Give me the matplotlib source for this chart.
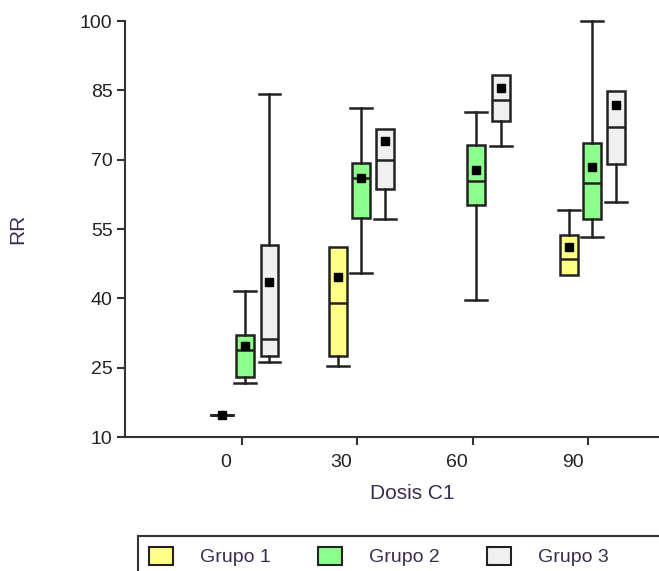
import matplotlib.pyplot as plt
from matplotlib.patches import Patch, Rectangle
from matplotlib.transforms import ScaledTranslation

plt.rcParams['font.family'] = ['Liberation Sans', 'DejaVu Sans']

doses = ["0", "30", "60", "90"]
groups = ["Grupo 1", "Grupo 2", "Grupo 3"]
colors = ["#FFFF88", "#8CFF8C", "#F0F0F0"]
y_ticks = [10, 25, 40, 55, 70, 85, 100]

# (whislo, q1, median, q3, whishi, mean) per dose, None = no data
grupo1 = [(14.8, 14.8, 14.8, 14.8, 14.8, 14.8),
          (25.4, 27.5, 39.0, 51.2, 51.2, 44.7),
          None,
          (45.0, 45.0, 48.6, 53.7, 59.1, 51.0)]
grupo2 = [(21.6, 22.9, 28.9, 32.0, 41.6, 29.7),
          (45.4, 57.4, 66.0, 69.2, 81.2, 66.0),
          (39.6, 60.3, 65.4, 73.2, 80.4, 67.7),
          (53.3, 57.1, 64.9, 73.7, 100.0, 68.5)]
grupo3 = [(26.2, 27.5, 31.2, 51.5, 84.2, 43.6),
          (57.1, 63.7, 69.9, 76.6, 76.6, 74.0),
          (72.9, 78.4, 82.9, 88.3, 88.3, 85.6),
          (60.8, 69.0, 77.0, 84.9, 84.9, 81.8)]

edge = "#222222"
text_col = "#3a2d50"

fig = plt.figure(figsize=(6.59, 5.71), dpi=100)
ax = fig.add_axes([125 / 659, 1 - 437 / 571, 534 / 659, 416 / 571])

offsets = [-0.17, 0.03, 0.24]
for gi, (data, color) in enumerate(zip([grupo1, grupo2, grupo3], colors)):
    stats = []
    pos = []
    for di, s in enumerate(data):
        if s is None:
            continue
        lo, q1, med, q3, hi, mean = s
        stats.append(dict(whislo=lo, q1=q1, med=med, q3=q3, whishi=hi,
                          mean=mean, fliers=[]))
        pos.append(di + offsets[gi])
    res = ax.bxp(stats, positions=pos, widths=0.155, capwidths=0.19,
                 patch_artist=True, showmeans=True,
                 boxprops=dict(facecolor=color, edgecolor=edge, linewidth=1.8),
                 medianprops=dict(color=edge, linewidth=1.8),
                 whiskerprops=dict(color=edge, linewidth=1.8),
                 capprops=dict(color=edge, linewidth=1.8),
                 meanprops=dict(marker="s", markerfacecolor="black",
                                markeredgecolor="black", markersize=6))
    for arts in res.values():
        for a in arts:
            a.set_clip_on(False)
    # caps that sit right on the box edge are not drawn
    for k, st in enumerate(stats):
        if st["q1"] == st["q3"]:
            continue
        if st["whislo"] == st["q1"]:
            res["caps"][2 * k].set_visible(False)
        if st["whishi"] == st["q3"]:
            res["caps"][2 * k + 1].set_visible(False)

ax.set_xlim(-1.01, 3.61)
ax.set_ylim(10, 100)
ax.set_xticks(range(len(doses)))
ax.set_xticklabels(doses)
ax.set_yticks(y_ticks)

for side in ["top", "right"]:
    ax.spines[side].set_visible(False)
for side in ["left", "bottom"]:
    ax.spines[side].set_color("#333333")
    ax.spines[side].set_linewidth(1.5)

ax.tick_params(direction="out", length=6, width=1.5, color="#333333",
               labelsize=14, labelcolor="#222222")
ax.tick_params(axis="x", pad=6)
ax.tick_params(axis="y", pad=3)

shift = ScaledTranslation(-16 / 100, 0, fig.dpi_scale_trans)
for lab in ax.get_xticklabels():
    lab.set_transform(lab.get_transform() + shift)

ax.set_xlabel("Dosis C1", fontsize=15, color=text_col)
ax.xaxis.set_label_coords((412 - 125) / 534, -0.112)
ax.set_ylabel("RR", fontsize=15, color=text_col)
ax.yaxis.set_label_coords(-0.183, 0.5)

# legend box runs off the right and bottom edges
fig.patches.append(Rectangle((138 / 659, -0.05), 0.9, 0.05 + 35 / 571,
                             transform=fig.transFigure, fill=False,
                             edgecolor="#333333", linewidth=1.5))
handles = [Patch(facecolor=c, edgecolor=edge, linewidth=1.5) for c in colors]
leg = fig.legend(handles, groups, loc="upper left",
                 bbox_to_anchor=(138 / 659, 1 - 536 / 571),
                 ncol=3, frameon=False, fontsize=14, borderpad=0.55,
                 handlelength=1.25, handleheight=1.05, handletextpad=1.4,
                 columnspacing=2.4, borderaxespad=0)
for t in leg.get_texts():
    t.set_color(text_col)

fig.savefig("out.png", dpi=100)
